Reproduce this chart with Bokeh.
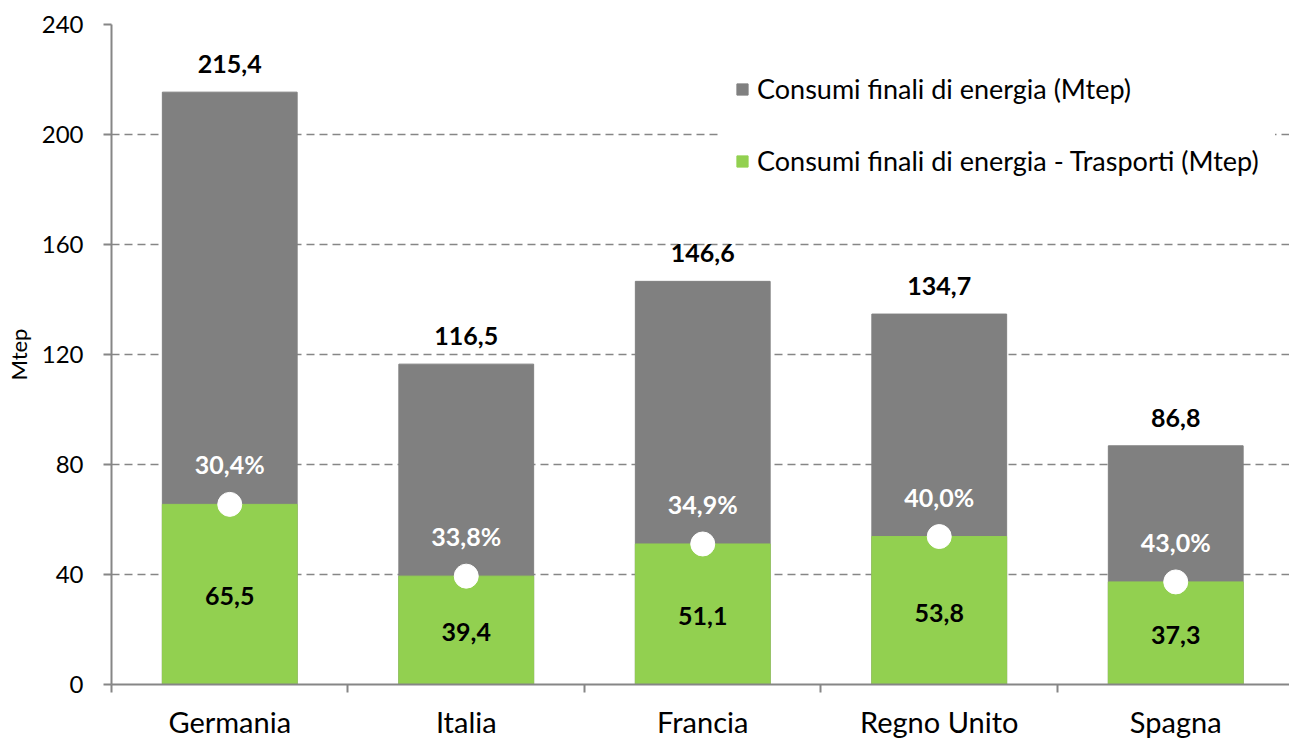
from bokeh.plotting import figure
from bokeh.models import (ColumnDataSource, Range1d, FixedTicker, Legend,
                          LegendItem, LabelSet)
from bokeh.core.properties import value
from bokeh.embed import file_html
from bokeh.resources import INLINE

# Final energy consumption by country (Mtep)
countries = ["Germania", "Italia", "Francia", "Regno Unito", "Spagna"]
total = [215.4, 116.5, 146.6, 134.7, 86.8]
transport = [65.5, 39.4, 51.1, 53.8, 37.3]
share = ["30,4%", "33,8%", "34,9%", "40,0%", "43,0%"]
y_ticks = [0, 40, 80, 120, 160, 200, 240]

GREY = "#808080"
GREEN = "#92D050"
AXIS = "#868686"
FONT = "Lato"

def fmt(v):
    return f"{v:.1f}".replace(".", ",")

xs = [i + 0.5 for i in range(len(countries))]
src = ColumnDataSource(dict(
    x=xs,
    total=total,
    transport=transport,
    total_lbl=[fmt(v) for v in total],
    transport_lbl=[fmt(v) for v in transport],
    transport_mid=[v / 2 for v in transport],
    share=share,
))

p = figure(width=1289, height=741, output_backend="svg", toolbar_location=None,
           x_range=Range1d(0, 4.981), y_range=Range1d(0, 240),
           min_border_left=111, min_border_right=0, min_border_top=24,
           min_border_bottom=56)
p.outline_line_color = None
p.background_fill_color = "white"

bw = 0.57
r_total = p.vbar(x="x", top="total", width=bw, source=src, color=GREY)
r_trans = p.vbar(x="x", top="transport", width=bw, source=src, color=GREEN)
p.scatter(x="x", y="transport", source=src, size=24, color="white")

# value labels
label_style = dict(source=src, text_align="center", text_baseline="middle",
                   text_font=value(FONT), text_font_style="bold",
                   text_font_size=value("25px"))
p.add_layout(LabelSet(x="x", y="total", text="total_lbl", y_offset=28,
                      text_color="black", **label_style))
p.add_layout(LabelSet(x="x", y="transport_mid", text="transport_lbl",
                      y_offset=-2, text_color="black", **label_style))
p.add_layout(LabelSet(x="x", y="transport", text="share", y_offset=40,
                      text_color="white", **label_style))

# axes
p.xgrid.visible = False
p.ygrid.ticker = FixedTicker(ticks=y_ticks)
p.ygrid.grid_line_color = AXIS
p.ygrid.grid_line_dash = "8 5"
p.ygrid.grid_line_width = 1.5

xa = p.xaxis[0]
xa.ticker = FixedTicker(ticks=xs, minor_ticks=list(range(len(countries) + 1)))
xa.major_label_overrides = {x: c for x, c in zip(xs, countries)}
xa.major_tick_out = 0
xa.major_tick_in = 0
xa.minor_tick_out = 8
xa.minor_tick_in = 0
xa.minor_tick_line_color = AXIS
xa.minor_tick_line_width = 2
xa.axis_line_color = AXIS
xa.axis_line_width = 2
xa.major_label_standoff = 11
xa.major_label_text_font = FONT
xa.major_label_text_font_size = "29px"
xa.major_label_text_color = "black"

ya = p.yaxis[0]
ya.ticker = FixedTicker(ticks=y_ticks)
ya.major_tick_out = 8
ya.major_tick_in = 0
ya.minor_tick_out = 0
ya.minor_tick_in = 0
ya.major_tick_line_color = AXIS
ya.major_tick_line_width = 2
ya.axis_line_color = AXIS
ya.axis_line_width = 2
ya.major_label_standoff = 20
ya.major_label_text_font = FONT
ya.major_label_text_font_size = "24px"
ya.major_label_text_color = "black"
ya.axis_label = "Mtep"
ya.axis_label_text_font = FONT
ya.axis_label_text_font_style = "normal"
ya.axis_label_text_font_size = "22px"
ya.axis_label_text_color = "black"
ya.axis_label_standoff = 7

legend = Legend(items=[
    LegendItem(label="Consumi finali di energia (Mtep)", renderers=[r_total]),
    LegendItem(label="Consumi finali di energia - Trasporti (Mtep)", renderers=[r_trans]),
], location=(608, 491))
legend.background_fill_color = "white"
legend.background_fill_alpha = 1.0
legend.border_line_alpha = 0
legend.padding = 16
legend.spacing = 39
legend.glyph_width = 14
legend.glyph_height = 14
legend.label_height = 27
legend.label_standoff = 8
legend.label_text_font = FONT
legend.label_text_font_size = "27px"
legend.label_text_color = "black"
legend.margin = 0
p.add_layout(legend)

open("out.html", "w").write(file_html(p, INLINE))
